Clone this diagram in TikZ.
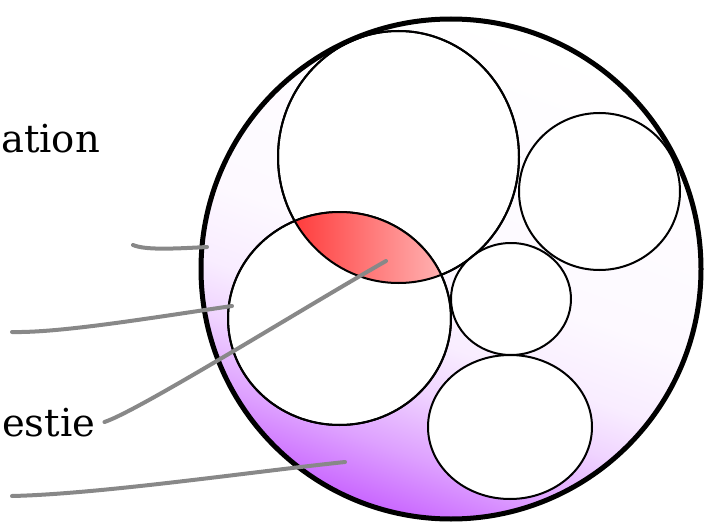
\documentclass[tikz,border=0pt]{standalone}
\usepackage{fontspec}
\setmainfont{DejaVu Serif}
\definecolor{purp}{HTML}{C966FF}
\definecolor{lensL}{HTML}{FF3C3C}
\definecolor{lensR}{HTML}{FFB4B4}
\definecolor{leader}{HTML}{888888}
\pgfdeclareverticalshading{outsh}{100bp}{color(0bp)=(purp); color(25bp)=(purp); color(31bp)=(purp!62!white); color(37.5bp)=(purp!28!white); color(42.5bp)=(purp!12!white); color(50bp)=(purp!4!white); color(75bp)=(white); color(100bp)=(white)}
\tikzset{
  inner/.style={draw=black, line width=2pt, fill=white},
  innerline/.style={draw=black, line width=2pt},
  outerline/.style={draw=black, line width=5pt},
  leadline/.style={draw=leader, line width=4pt, line cap=round},
  lbl/.style={font=\fontsize{38.5pt}{44pt}\selectfont, inner sep=0pt, anchor=base west}
}
\begin{document}
\begin{tikzpicture}[x=1pt,y=-1pt]
\useasboundingbox (0,0) rectangle (705,527);
\clip (0,0) rectangle (705,527);
% outer disc
\shade[shading=outsh, shading angle=-20] (451,269) circle [radius=250];
% inner discs
\path[inner] (398.5,157) ellipse [x radius=120.5, y radius=126];
\path[inner] (339.5,318.5) ellipse [x radius=111.5, y radius=106.5];
\path[inner] (599.5,191.5) ellipse [x radius=80.5, y radius=78.5];
\path[inner] (511,299) ellipse [x radius=60, y radius=56];
\path[inner] (510,427) ellipse [x radius=82, y radius=72];
% lens
\begin{scope}
  \clip (398.5,157) ellipse [x radius=120.5, y radius=126];
  \clip (339.5,318.5) ellipse [x radius=111.5, y radius=106.5];
  \shade[left color=lensL, right color=lensR] (294,205) rectangle (444,290);
\end{scope}
\path[innerline] (398.5,157) ellipse [x radius=120.5, y radius=126];
\path[innerline] (339.5,318.5) ellipse [x radius=111.5, y radius=106.5];
% outer outline
\path[outerline] (451,269) circle [radius=250];
% labels
\node[lbl] (la) at (1,153) {ation};
\node[lbl] (lb) at (2,436) {estie};
% leader lines
\coordinate (a1) at (133,245);
\coordinate (a2) at (207,247);
\coordinate (b1) at (12,332);
\coordinate (b2) at (232,306);
\coordinate (c2) at (386,261);
\coordinate (d1) at (12,496);
\coordinate (d2) at (345,462);
\draw[leadline] (a1) .. controls (145,250) and (170,249) .. (a2);
\draw[leadline] (b1) .. controls (60,333) and (150,318) .. (b2);
\draw[leadline] ([xshift=9pt,yshift=14pt]lb.base east) .. controls (140,410) and (300,310) .. (c2);
\draw[leadline] (d1) .. controls (100,494) and (250,472) .. (d2);
\end{tikzpicture}
\end{document}
